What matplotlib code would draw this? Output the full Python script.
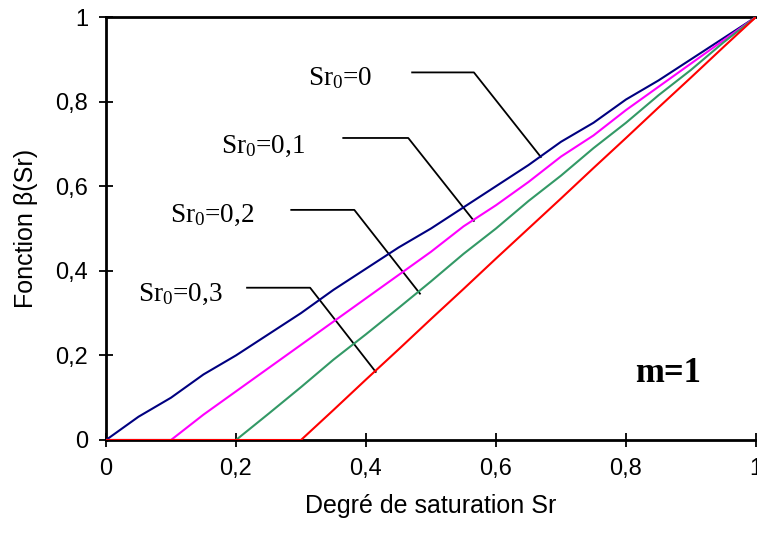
import matplotlib
matplotlib.use("Agg")
import matplotlib.pyplot as plt

plt.rcParams['mathtext.fontset'] = 'custom'
plt.rcParams['mathtext.rm'] = 'Liberation Serif'
plt.rcParams['mathtext.it'] = 'Liberation Serif'

# Data
x_sr0_00 = [0, 0.05, 0.1, 0.15, 0.2, 0.25, 0.3, 0.35, 0.4, 0.45, 0.5, 0.55, 0.6, 0.65, 0.7, 0.75, 0.8, 0.85, 0.9, 0.95, 1.0]
y_sr0_00 = [0, 0.055, 0.1, 0.155, 0.2, 0.25, 0.3, 0.355, 0.405, 0.455, 0.5, 0.55, 0.6, 0.65, 0.705, 0.75, 0.805, 0.85, 0.9, 0.95, 1.0]

x_sr0_01 = [0, 0.1, 0.15, 0.2, 0.25, 0.3, 0.35, 0.4, 0.45, 0.5, 0.55, 0.6, 0.65, 0.7, 0.75, 0.8, 0.85, 0.9, 0.95, 1.0]
y_sr0_01 = [0, 0, 0.06, 0.115, 0.17, 0.225, 0.28, 0.335, 0.39, 0.445, 0.505, 0.555, 0.61, 0.67, 0.72, 0.78, 0.835, 0.89, 0.945, 1.0]

x_sr0_02 = [0, 0.2, 0.25, 0.3, 0.35, 0.4, 0.45, 0.5, 0.55, 0.6, 0.65, 0.7, 0.75, 0.8, 0.85, 0.9, 0.95, 1.0]
y_sr0_02 = [0, 0, 0.062, 0.125, 0.19, 0.25, 0.312, 0.375, 0.44, 0.5, 0.565, 0.625, 0.69, 0.75, 0.815, 0.875, 0.94, 1.0]

x_sr0_03 = [0, 0.3, 0.35, 0.4, 0.45, 0.5, 0.55, 0.6, 0.65, 0.7, 0.75, 0.8, 0.85, 0.9, 0.95, 1.0]
y_sr0_03 = [0, 0, 0.071, 0.143, 0.214, 0.286, 0.357, 0.429, 0.5, 0.571, 0.643, 0.714, 0.786, 0.857, 0.929, 1.0]

x_ticks = [0, 0.2, 0.4, 0.6, 0.8, 1.0]
x_tick_labels = ['0', '0,2', '0,4', '0,6', '0,8', '1']
y_ticks = [0, 0.2, 0.4, 0.6, 0.8, 1.0]
y_tick_labels = ['0', '0,2', '0,4', '0,6', '0,8', '1']

labels = ['Sr$_0$=0', 'Sr$_0$=0,1', 'Sr$_0$=0,2', 'Sr$_0$=0,3']
# leader lines: (text x, text y), elbow start, elbow, end on curve
text_pos = [(0.36, 0.855), (0.242, 0.695), (0.163, 0.53), (0.115, 0.345)]
leader_pts = [
    [(0.471, 0.869), (0.566, 0.869), (0.669, 0.669)],
    [(0.365, 0.714), (0.465, 0.714), (0.566, 0.518)],
    [(0.285, 0.544), (0.382, 0.544), (0.483, 0.346)],
    [(0.217, 0.360), (0.314, 0.360), (0.415, 0.161)],
]

fig = plt.figure(figsize=(7.57, 5.38), dpi=100)
ax = fig.add_axes([106/757, 1-440/538, 650/757, 423/538])

ax.plot(x_sr0_00, y_sr0_00, color='#000080', lw=1.5, zorder=3)
ax.plot(x_sr0_01, y_sr0_01, color='#FF00FF', lw=1.5, zorder=3)
ax.plot(x_sr0_02, y_sr0_02, color='#339966', lw=1.5, zorder=3)
ax.plot(x_sr0_03, y_sr0_03, color='#FF0000', lw=1.5, zorder=4)

for lab, tp, pts in zip(labels, text_pos, leader_pts):
    ax.text(tp[0], tp[1], lab, family='Liberation Serif', fontsize=19.5,
            ha='center', va='center')
    ax.plot([p[0] for p in pts], [p[1] for p in pts], color='black', lw=1.3, zorder=2)

ax.text(0.865, 0.158, 'm=1', family='Liberation Serif', fontsize=25,
        fontweight='bold', ha='center', va='center')

ax.set_xlim(0, 1)
ax.set_ylim(0, 1)
ax.set_xticks(x_ticks)
ax.set_xticklabels(x_tick_labels)
ax.set_yticks(y_ticks)
ax.set_yticklabels(y_tick_labels)
for lbl in ax.get_xticklabels() + ax.get_yticklabels():
    lbl.set_family('Liberation Sans')
    lbl.set_fontsize(17)
ax.tick_params(direction='inout', length=10, width=1.3, pad=8)
ax.set_xlabel('Degré de saturation Sr', family='Liberation Sans', fontsize=18, labelpad=10)
ax.set_ylabel('Fonction β(Sr)', family='Liberation Sans', fontsize=18, labelpad=12)

ax.spines['right'].set_visible(False)
for s in ['left', 'bottom', 'top']:
    ax.spines[s].set_linewidth(2)

fig.savefig('out.png', dpi=100)
